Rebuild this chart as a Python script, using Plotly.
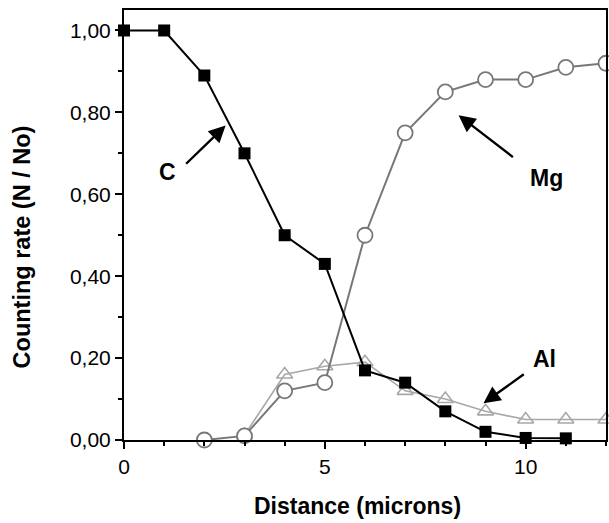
import plotly.graph_objects as go

# Data
c_x = [0, 1, 2, 3, 4, 5, 6, 7, 8, 9, 10, 11]
c_y = [1.00, 1.00, 0.89, 0.70, 0.50, 0.43, 0.17, 0.14, 0.07, 0.02, 0.005, 0.004]

mg_x = [2, 3, 4, 5, 6, 7, 8, 9, 10, 11, 12]
mg_y = [0.0, 0.01, 0.12, 0.14, 0.50, 0.75, 0.85, 0.88, 0.88, 0.91, 0.92]

al_x = [3, 4, 5, 6, 7, 8, 9, 10, 11, 12]
al_y = [0.012, 0.16, 0.18, 0.19, 0.12, 0.10, 0.07, 0.05, 0.05, 0.05]

x_title = "Distance (microns)"
y_title = "Counting rate (N / No)"

FONT = "Liberation Sans, Arial, sans-serif"

fig = go.Figure()
fig.add_trace(go.Scatter(
    x=al_x, y=al_y, mode="lines+markers", name="Al",
    line=dict(color="#a8a8a8", width=1.6),
    marker=dict(symbol="triangle-up-open", size=14, color="#a8a8a8", line=dict(width=1.6)),
    cliponaxis=False))
fig.add_trace(go.Scatter(
    x=mg_x, y=mg_y, mode="lines+markers", name="Mg",
    line=dict(color="#777777", width=2),
    marker=dict(symbol="circle", size=15, color="white", line=dict(color="#777777", width=1.8)),
    cliponaxis=False))
fig.add_trace(go.Scatter(
    x=c_x, y=c_y, mode="lines+markers", name="C",
    line=dict(color="black", width=2),
    marker=dict(symbol="square", size=12, color="black"),
    cliponaxis=False))

def label(text, x, y):
    fig.add_annotation(x=x, y=y, text=f"<b>{text}</b>", showarrow=False,
                       font=dict(family=FONT, size=23, color="black"))

def arrow(x0, y0, x1, y1):
    fig.add_annotation(x=x1, y=y1, ax=x0, ay=y0, axref="x", ayref="y",
                       text="", showarrow=True, arrowhead=2, arrowsize=1.4,
                       arrowwidth=2.4, arrowcolor="black")

label("C", 1.09, 0.654)
arrow(1.51, 0.671, 2.53, 0.768)
label("Mg", 10.51, 0.641)
arrow(9.72, 0.688, 8.33, 0.793)
label("Al", 10.46, 0.198)
arrow(9.99, 0.163, 8.95, 0.09)

# Axis titles as annotations for precise placement
fig.add_annotation(xref="paper", yref="paper", x=(358 - 124) / 484, y=-(506 - 440) / 430,
                   xanchor="center", yanchor="middle",
                   text=f"<b>{x_title}</b>", showarrow=False,
                   font=dict(family=FONT, size=23, color="black"))
fig.add_annotation(xref="paper", yref="paper", x=(22 - 124) / 484, y=(440 - 247) / 430,
                   xanchor="center", yanchor="middle",
                   text=f"<b>{y_title}</b>", showarrow=False, textangle=-90,
                   font=dict(family=FONT, size=23.5, color="black"))

axis_common = dict(showgrid=False, zeroline=False, showline=True, linecolor="black",
                   linewidth=2, mirror=True, ticks="outside", tickcolor="black",
                   tickwidth=2, ticklen=7,
                   tickfont=dict(family=FONT, size=21, color="black"))

fig.update_xaxes(range=[0, 12], tickvals=[0, 5, 10],
                 minor=dict(dtick=1, ticks="outside", ticklen=4, tickcolor="black", tickwidth=2),
                 **axis_common)
fig.update_yaxes(range=[0, 1.05], tickvals=[0, 0.2, 0.4, 0.6, 0.8, 1.0], tickformat=".2f",
                 minor=dict(dtick=0.1, tick0=0, ticks="outside", ticklen=4, tickcolor="black", tickwidth=2),
                 **axis_common)

fig.update_layout(width=609, height=523, margin=dict(l=124, r=1, t=10, b=83),
                  plot_bgcolor="white", paper_bgcolor="white", showlegend=False,
                  separators=",.", font=dict(family=FONT))

fig.write_html("out.html")
